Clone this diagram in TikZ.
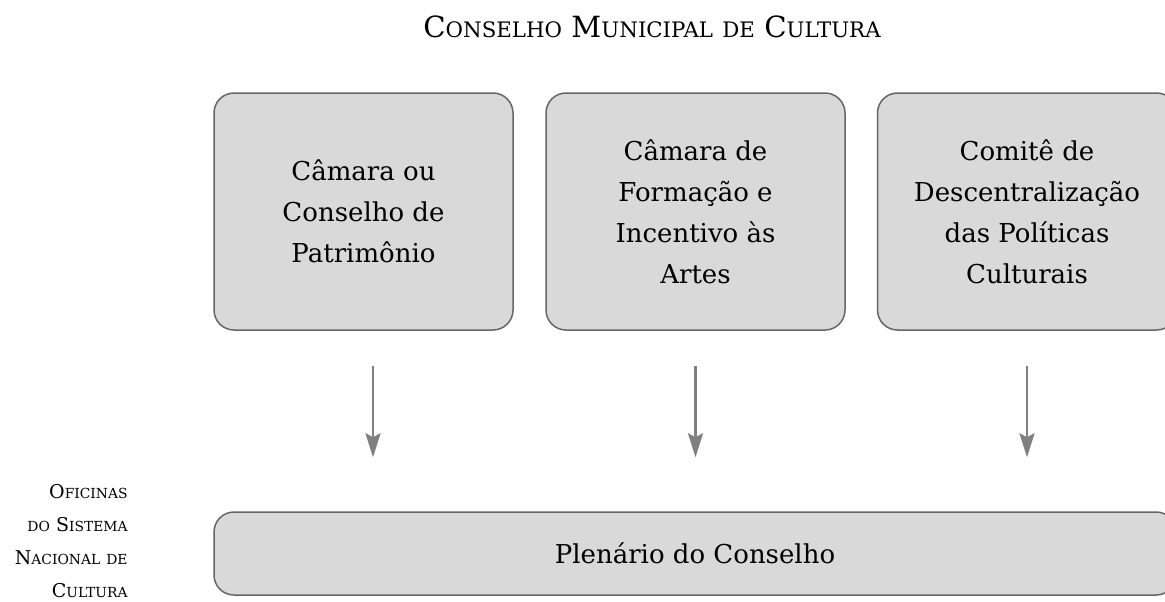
\documentclass[tikz,border=0pt]{standalone}
\usepackage{fontspec}
\setmainfont{DejaVu Serif}
\usetikzlibrary{arrows.meta}
% small caps made by hand, the font has none
\newcommand{\fakesc}[2]{#1\scalebox{0.73}{#2}}
\begin{document}
\begin{tikzpicture}[x=0.5pt,y=-0.5pt,
  camara/.style={draw=black!60,line width=0.75pt,fill=black!15,rounded corners=10pt,
    minimum width=149.5pt,minimum height=118.5pt,align=center,
    font=\fontsize{13}{20.5}\selectfont},
  flow/.style={draw=black!50,line width=1.3pt,-{Stealth[length=12pt,width=7.5pt,inset=2pt]},
    shorten <=17.5pt,shorten >=27pt}]
\useasboundingbox (0,0) rectangle (1165,601);

\node[anchor=base,font=\fontsize{14.6}{18}\selectfont] (titulo) at (652,37)
  {\fakesc{C}{ONSELHO} \fakesc{M}{UNICIPAL} \fakesc{}{DE} \fakesc{C}{ULTURA}};

\node[camara] (c1) at (363.5,211.5) {Câmara ou\\Conselho de\\Patrimônio};
\node[camara] (c2) at (695.5,211.5) {Câmara de\\Formação e\\Incentivo às\\Artes};
\node[camara] (c3) at (1027,211.5) {Comitê de\\Descentralização\\das Políticas\\Culturais};

\node[camara,minimum width=481pt,minimum height=41.5pt] (plen) at (695,553.5) {Plenário do Conselho};

\node[anchor=north east,inner sep=0pt,align=right,font=\fontsize{9.5}{16.5}\selectfont] (oficinas) at (128,484)
  {\fakesc{O}{FICINAS}\\\fakesc{}{DO} \fakesc{S}{ISTEMA}\\\fakesc{N}{ACIONAL} \fakesc{}{DE}\\\fakesc{C}{ULTURA}};

	\foreach \c/\dx in {c1/4.75pt,c2/0pt,c3/0pt}
{
	\draw[flow] ([xshift=\dx]\c.south) -- ([xshift=\dx]\c.south |- plen.north);
}
\end{tikzpicture}
\end{document}
